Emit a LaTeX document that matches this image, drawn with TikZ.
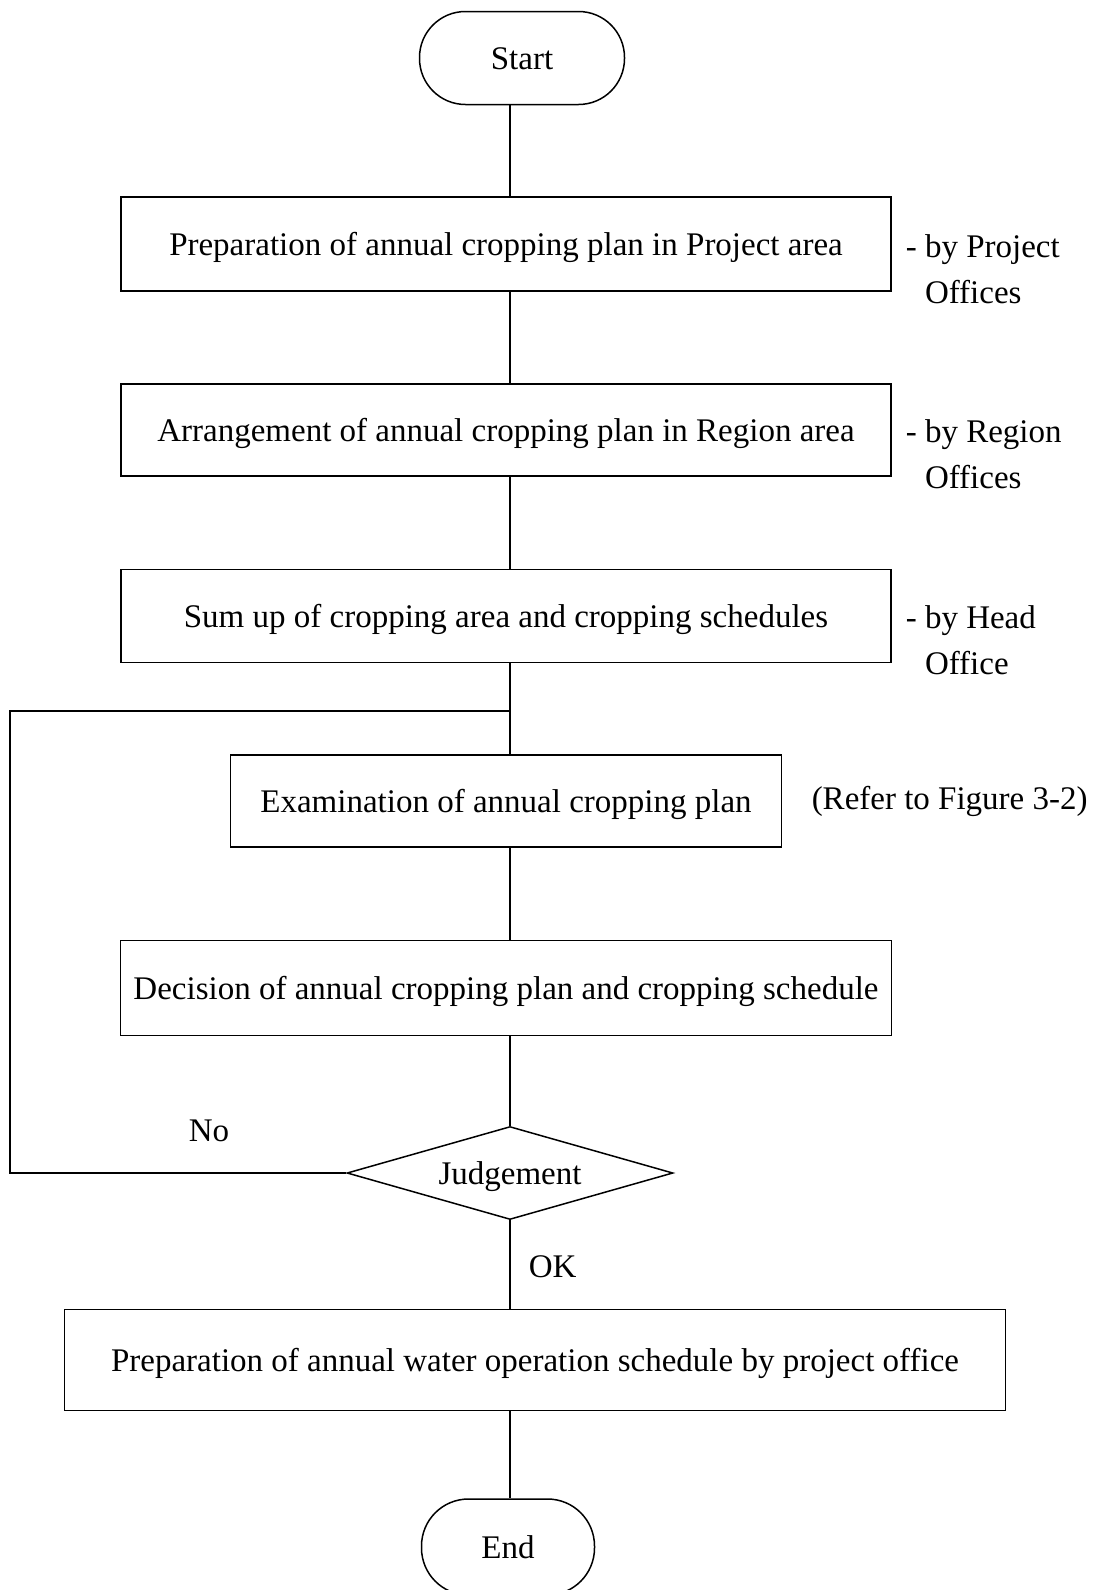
\documentclass[tikz,border=0pt]{standalone}
\usepackage{fontspec}
\setmainfont{Liberation Serif}
\usetikzlibrary{shapes.geometric}

\tikzset{
  stepbox/.style={draw,inner sep=0pt,text height=23pt,text depth=0pt,font=\fontsize{33}{40}\selectfont},
  term/.style={stepbox,rounded corners=46pt},
  judgebox/.style={stepbox,diamond,aspect=3.5},
  note/.style={anchor=west,align=left,inner sep=0pt,font=\fontsize{33}{46}\selectfont},
}

\begin{document}
\begin{tikzpicture}[x=1pt,y=-1pt,line width=1.5pt]
  \useasboundingbox (0,0) rectangle (1103,1590);
  \fill[white] (0,0) rectangle (1103,1590);

  % main steps
  \node[term,minimum width=205pt,minimum height=93pt] (start) at (522,58) {Start};
  \node[stepbox,minimum width=770pt,minimum height=94pt] (prep) at (506,244) {Preparation of annual cropping plan in Project area};
  \node[stepbox,minimum width=770pt,minimum height=92pt] (arrange) at (506,430) {Arrangement of annual cropping plan in Region area};
  \node[stepbox,minimum width=770pt,minimum height=93pt] (sumup) at (506,616) {Sum up of cropping area and cropping schedules};
  \node[stepbox,minimum width=551pt,minimum height=92pt] (exam) at (506,801) {Examination of annual cropping plan};
  \node[stepbox,minimum width=771pt,minimum height=95pt] (decide) at (506,988) {Decision of annual cropping plan and cropping schedule};
  \node[judgebox,minimum width=326pt,minimum height=93pt] (judge) at (510,1173) {Judgement};
  \node[stepbox,minimum width=941pt,minimum height=101pt] (water) at (535,1360) {Preparation of annual water operation schedule by project office};
  \node[term,minimum width=173pt,minimum height=96pt,rounded corners=47pt] (finish) at (508,1547) {End};

  % side notes
  \node[note] (byproj) at (905,269) {- by Project\\\hphantom{- }Offices};
  \node[note] (byreg) at (905,454) {- by Region\\\hphantom{- }Offices};
  \node[note] (byhead) at (905,640) {- by Head\\\hphantom{- }Office};
  \node[note] (refer) at (811,801) {(Refer to Figure 3-2)};
  \node[note] (no) at (188,1131) {No};
  \node[note] (ok) at (528,1267) {OK};

  % connectors
  \coordinate (spine) at (510,0);
  \coordinate (join) at (510,711);
  \coordinate (back) at (10,711);
  \draw (start.south -| spine) -- (prep.north -| spine);
  \draw (prep.south -| spine) -- (arrange.north -| spine);
  \draw (arrange.south -| spine) -- (sumup.north -| spine);
  \draw (sumup.south -| spine) -- (exam.north -| spine);
  \draw (exam.south -| spine) -- (decide.north -| spine);
  \draw (decide.south -| spine) -- (judge.north);
  \draw (judge.south) -- (water.north -| spine);
  \draw (water.south -| spine) -- (finish.north -| spine);
  \draw (judge.west) -| (back) -- (join);
\end{tikzpicture}
\end{document}
